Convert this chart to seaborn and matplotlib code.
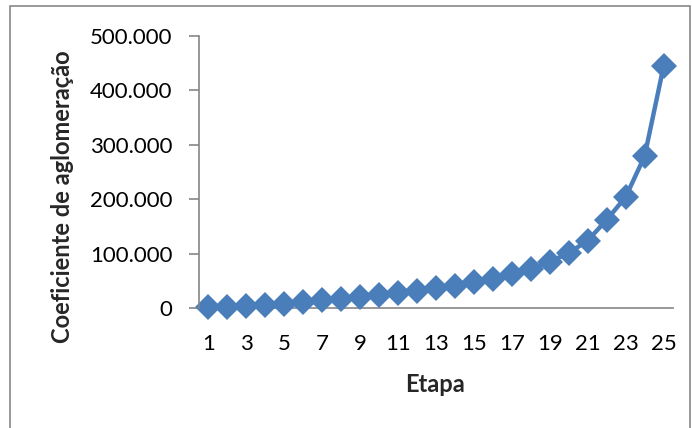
import matplotlib
matplotlib.use("Agg")
import matplotlib.pyplot as plt
from matplotlib.patches import Rectangle
from matplotlib.ticker import FuncFormatter
import seaborn as sns
import pandas as pd

# Agglomeration coefficient per clustering stage
etapas = list(range(1, 26))
coeficientes = [1800, 1800, 4300, 6100, 7900, 10400, 14000, 17000, 20000, 23000,
                27000, 32000, 36000, 40000, 47000, 54000, 63000, 71000, 85000, 101000,
                124000, 162000, 204000, 279000, 444000]
x_tick_labels = [str(e) for e in etapas if e % 2 == 1]
y_ticks = [0, 100000, 200000, 300000, 400000, 500000]

df = pd.DataFrame({"Etapa": etapas, "Coeficiente": coeficientes})

sns.set_theme(style="white")
plt.rcParams["font.family"] = ["Lato", "DejaVu Sans"]

fig = plt.figure(figsize=(6.92, 4.28), dpi=100)
ax = fig.add_axes([0.2876, 0.2804, 0.685, 0.6355])

blue = "#4A7EBB"
sns.lineplot(data=df, x="Etapa", y="Coeficiente", ax=ax, color=blue,
             linewidth=3.2, marker="D", markersize=13.5, markeredgewidth=0,
             markerfacecolor=blue, clip_on=False)

ax.set_xlim(0.5, 25.5)
ax.set_ylim(0, 500000)
ax.set_xticks([e for e in etapas if e % 2 == 1])
ax.set_xticklabels(x_tick_labels)
ax.set_yticks(y_ticks)
ax.yaxis.set_major_formatter(FuncFormatter(
    lambda v, _: "0" if v == 0 else f"{int(v):,}".replace(",", ".")))

for side in ("top", "right"):
    ax.spines[side].set_visible(False)
for side in ("left", "bottom"):
    ax.spines[side].set_color("#868686")
    ax.spines[side].set_linewidth(1.2)
ax.spines["bottom"].set_zorder(0.5)

ax.tick_params(axis="y", direction="out", length=7, width=1.2, color="#868686",
               labelsize=16, pad=12, left=True, labelcolor="#000000")
ax.tick_params(axis="x", length=0, labelsize=16, pad=19, labelcolor="#000000")
ax.set_xlabel("")
ax.set_ylabel("")

fig.text(0.0896, 0.5397, "Coeficiente de aglomeração", rotation=90,
         ha="center", va="center", fontsize=17, fontweight="bold")
fig.text(0.6286, 0.1005, "Etapa", ha="center", va="center",
         fontsize=17, fontweight="bold")

fig.patches.append(Rectangle((0.0145, -0.02), 0.9825, 1.006,
                             transform=fig.transFigure, fill=False,
                             edgecolor="#888888", linewidth=1.2))

fig.savefig("out.png", dpi=100)
